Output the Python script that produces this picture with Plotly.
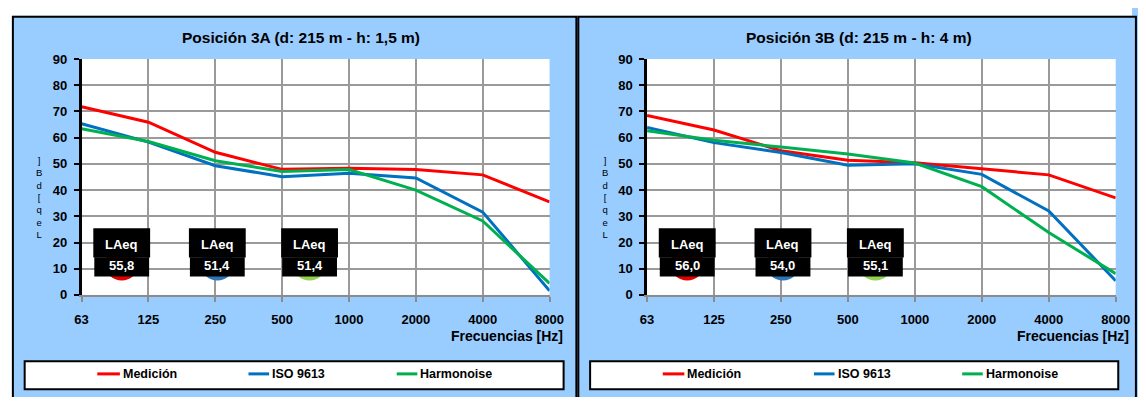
import plotly.graph_objects as go

# ---------------- data ----------------
freqs = ["63", "125", "250", "500", "1000", "2000", "4000", "8000"]
series_names = ["Medición", "ISO 9613", "Harmonoise"]
series_colors = ["#FF0000", "#0070C0", "#00B050"]
pie_colors = ["#E00000", "#2E75B6", "#92D050"]

med_3A = [71.8, 65.9, 54.4, 47.9, 48.3, 47.8, 45.8, 35.5]
iso_3A = [65.3, 58.3, 49.3, 45.1, 46.4, 44.6, 31.6, 1.6]
harm_3A = [63.4, 58.5, 51.2, 47.1, 47.8, 40.0, 28.2, 4.4]

med_3B = [68.5, 62.9, 55.0, 51.4, 50.4, 48.1, 45.8, 37.0]
iso_3B = [63.9, 58.1, 54.3, 49.5, 50.0, 46.0, 32.0, 5.4]
harm_3B = [62.6, 59.0, 56.4, 53.8, 50.3, 41.3, 23.8, 8.1]

laeq_3A = [55.8, 51.4, 51.4]
laeq_3B = [56.0, 54.0, 55.1]

titles = ["Posición 3A (d: 215 m - h: 1,5 m)", "Posición 3B (d: 215 m - h: 4 m)"]
x_title = "Frecuencias [Hz]"
y_title = "Leq [dB]"

# ---------------- layout helpers ----------------
W, H = 1146, 405
FONT = "Liberation Sans, Arial, sans-serif"


def px(x):
    return x / W


def py(y):
    return 1 - y / H


panels = [
    dict(plot_x0=76, plot_x1=552.7, title_x=299.5, ylab_x=33,
         panel_x0=6, panel_x1=580, leg_x0=18, leg_x1=567,
         leg_items=[(92, 115), (246, 267), (397, 418)]),
    dict(plot_x0=652, plot_x1=1129.4, title_x=868, ylab_x=609,
         panel_x0=582, panel_x1=1150, leg_x0=594, leg_x1=1132,
         leg_items=[(668, 690), (822, 843), (973, 994)]),
]
PLOT_Y0, PLOT_Y1 = 299, 54  # pixel rows of 0 and 90

data_sets = [[med_3A, iso_3A, harm_3A], [med_3B, iso_3B, harm_3B]]
laeq_sets = [laeq_3A, laeq_3B]
laeq_pos = [0.60, 2.03, 3.41]

# stacked (upright) characters of the y-axis title, read bottom to top
stacked_y_title = "<br>".join(reversed(list(y_title.replace(" ", ""))))

fig = go.Figure()
shapes = []
annotations = []

for k, (pan, series, laeq) in enumerate(zip(panels, data_sets, laeq_sets)):
    xa = "x" if k == 0 else "x2"
    ya = "y" if k == 0 else "y2"
    for name, vals, col in zip(series_names, series, series_colors):
        fig.add_trace(go.Scatter(x=freqs, y=vals, mode="lines", name=name,
                                 line=dict(color=col, width=3),
                                 xaxis=xa, yaxis=ya, showlegend=False,
                                 hoverinfo="skip"))

    axis_x = dict(type="category", categoryorder="array", categoryarray=freqs,
                  range=[0, 7], domain=[px(pan["plot_x0"]), px(pan["plot_x1"])],
                  showgrid=True, gridcolor="#9A9A9A", gridwidth=2,
                  showline=True, linecolor="#8C8C8C", linewidth=2,
                  ticks="outside", ticklen=5, tickwidth=1.5, tickcolor="#8C8C8C",
                  tickfont=dict(family=FONT, size=13, color="black", weight="bold"),
                  ticklabelstandoff=6, anchor=ya, fixedrange=True)
    axis_y = dict(range=[0, 90], dtick=10, domain=[py(PLOT_Y0), py(PLOT_Y1)],
                  showgrid=True, gridcolor="#9A9A9A", gridwidth=2, zeroline=False,
                  showline=True, linecolor="black", linewidth=2.5,
                  ticks="outside", ticklen=5, tickwidth=2, tickcolor="black",
                  tickfont=dict(family=FONT, size=13, color="black", weight="bold"),
                  ticklabelstandoff=4, anchor=xa, fixedrange=True)
    if k == 0:
        fig.update_layout(xaxis=axis_x, yaxis=axis_y)
    else:
        fig.update_layout(xaxis2=axis_x, yaxis2=axis_y)

    # panel border
    shapes.append(dict(type="rect", xref="paper", yref="paper",
                       x0=px(pan["panel_x0"]), x1=px(pan["panel_x1"]),
                       y0=py(10), y1=py(420), line=dict(color="black", width=2),
                       fillcolor="rgba(0,0,0,0)", layer="above"))

    # title
    annotations.append(dict(text=titles[k], xref="paper", yref="paper",
                            x=px(pan["title_x"]), y=py(32), showarrow=False,
                            xanchor="center", yanchor="middle",
                            font=dict(family=FONT, size=15.5, color="black", weight="bold")))
    # x axis title
    annotations.append(dict(text=x_title, xref="paper", yref="paper",
                            x=px(pan["plot_x1"] + 16), y=py(342), showarrow=False,
                            xanchor="right", yanchor="middle",
                            font=dict(family=FONT, size=14, color="black", weight="bold")))
    # stacked y-axis title
    annotations.append(dict(text=stacked_y_title, xref="paper", yref="paper",
                            x=px(pan["ylab_x"]), y=py(198), showarrow=False,
                            xanchor="center", yanchor="middle", align="center",
                            font=dict(family=FONT, size=9.5, color="black")))

    # LAeq labels (pie circle peeking below black label boxes)
    for pos, val, pc in zip(laeq_pos, laeq, pie_colors):
        shapes.append(dict(type="circle", xref=xa, yref=ya,
                           x0=pos - 0.25, x1=pos + 0.25, y0=11.8 - 6.3, y1=11.8 + 6.3,
                           fillcolor=pc, line=dict(width=0), layer="above"))
        shapes.append(dict(type="rect", xref=xa, yref=ya,
                           x0=pos - 0.425, x1=pos + 0.425, y0=14.3, y1=25.4,
                           fillcolor="black", line=dict(width=0), layer="above"))
        shapes.append(dict(type="rect", xref=xa, yref=ya,
                           x0=pos - 0.41, x1=pos + 0.41, y0=7.0, y1=14.4,
                           fillcolor="black", line=dict(width=0), layer="above"))
        annotations.append(dict(text="LAeq", xref=xa, yref=ya, x=pos, y=19.1,
                                showarrow=False, xanchor="center", yanchor="middle",
                                font=dict(family=FONT, size=13, color="white", weight="bold")))
        annotations.append(dict(text=f"{val:.1f}".replace(".", ","), xref=xa, yref=ya,
                                x=pos, y=11.4, showarrow=False,
                                xanchor="center", yanchor="middle",
                                font=dict(family=FONT, size=13, color="white", weight="bold")))

    # legend box
    shapes.append(dict(type="rect", xref="paper", yref="paper",
                       x0=px(pan["leg_x0"]), x1=px(pan["leg_x1"]),
                       y0=py(397), y1=py(368), fillcolor="white",
                       line=dict(color="black", width=2), layer="above"))
    for (lx0, lx1), name, col in zip(pan["leg_items"], series_names, series_colors):
        shapes.append(dict(type="line", xref="paper", yref="paper",
                           x0=px(lx0), x1=px(lx1), y0=py(381), y1=py(381),
                           line=dict(color=col, width=3), layer="above"))
        annotations.append(dict(text=name, xref="paper", yref="paper",
                                x=px(lx1 + 1), y=py(381), showarrow=False,
                                xanchor="left", yanchor="middle",
                                font=dict(family=FONT, size=12.5, color="black", weight="bold")))

# white strips outside the panels
shapes.insert(0, dict(type="rect", xref="paper", yref="paper", x0=0, x1=1,
                      y0=py(9), y1=1.02, fillcolor="white", line=dict(width=0), layer="above"))
shapes.insert(0, dict(type="rect", xref="paper", yref="paper", x0=-0.01, x1=px(5),
                      y0=-0.02, y1=1.02, fillcolor="white", line=dict(width=0), layer="above"))

fig.update_layout(margin=dict(l=0, r=0, t=0, b=0),
                  paper_bgcolor="#99CCFF", plot_bgcolor="white",
                  shapes=shapes, annotations=annotations, showlegend=False,
                  font=dict(family=FONT, color="black"))

# the page body has an 8px default margin; a negative margin on the plot div
# cancels it so the 1146x405 figure fills the window exactly
fig.write_html("out.html",
               config={"displayModeBar": False},
               default_width=f"{W}px",
               default_height=f"{H}px; margin:-8px")
